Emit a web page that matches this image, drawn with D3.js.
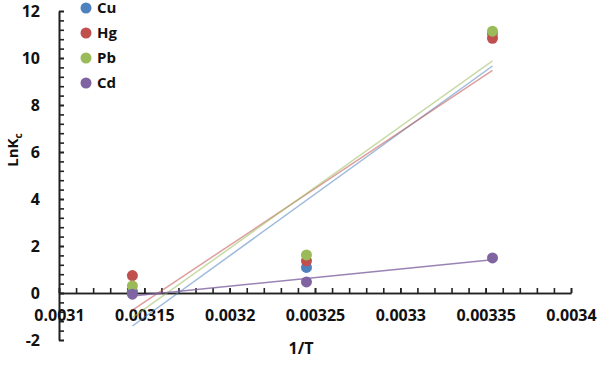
<!DOCTYPE html>
<html>
<head>
<meta charset="utf-8">
<script src="https://cdn.jsdelivr.net/npm/d3@7"></script>
<style>
  body { margin: 0; background: #fff; }
  text { font-family: "Open Sans", "DejaVu Sans", sans-serif; font-weight: 700; fill: #111; }
</style>
</head>
<body>
<svg id="chart" width="597" height="366"></svg>
<script>
// 1/T values (K^-1) and LnKc for each metal
const invT = [0.003143, 0.003245, 0.003354];
const seriesNames = ["Cu", "Hg", "Pb", "Cd"];
const cuValues = [0.07, 1.09, 11.04];
const hgValues = [0.74, 1.37, 10.84];
const pbValues = [0.30, 1.62, 11.14];
const cdValues = [-0.05, 0.47, 1.49];
const seriesColors = ["#4f81bd", "#c0504d", "#9bbb59", "#8064a2"];
const xTicks = [0.0031, 0.00315, 0.0032, 0.00325, 0.0033, 0.00335, 0.0034];
const yTicks = [-2, 0, 2, 4, 6, 8, 10, 12];

const series = [cuValues, hgValues, pbValues, cdValues].map((vals, i) => ({
    name: seriesNames[i],
    color: seriesColors[i],
    points: vals.map((v, j) => [invT[j], v])
}));

const svg = d3.select("#chart");
const x = d3.scaleLinear().domain([0.0031, 0.0034]).range([59, 571]);
const y = d3.scaleLinear().domain([-2, 12]).range([340, 11]);

// y axis: minor ticks then labelled ticks, all pointing inward
svg.append("g")
    .attr("transform", "translate(" + x(0.0031) + ",0)")
    .call(d3.axisLeft(y).tickValues(d3.range(-2, 12.01, 0.4)).tickFormat("").tickSizeInner(-5).tickSizeOuter(0))
svg.append("g")
    .attr("class", "y-axis")
    .attr("transform", "translate(" + x(0.0031) + ",0)")
    .call(d3.axisLeft(y).tickValues(yTicks).tickFormat(d => String(d)).tickSizeInner(-5).tickSizeOuter(0).tickPadding(19))

// x axis sits on y = 0
svg.append("g")
    .attr("transform", "translate(0," + y(0) + ")")
    .call(d3.axisBottom(x).tickValues(d3.range(0, 31).map(i => 0.0031 + i * 0.00001)).tickFormat("").tickSizeInner(-5).tickSizeOuter(0))
svg.append("g")
    .attr("class", "x-axis")
    .attr("transform", "translate(0," + y(0) + ")")
    .call(d3.axisBottom(x).tickValues(xTicks).tickFormat(d => String(+d.toFixed(5))).tickSizeInner(-5).tickSizeOuter(0).tickPadding(17))

svg.selectAll(".domain, .tick line").attr("stroke", "#222").attr("stroke-width", 1.6)
svg.selectAll(".tick text").style("font-size", "16px").attr("fill", "#111")

// linear trendlines (least squares over each series)
function fit(pts) {
    const mx = d3.mean(pts, p => p[0]), my = d3.mean(pts, p => p[1]);
    const sxy = d3.sum(pts, p => (p[0] - mx) * (p[1] - my));
    const sxx = d3.sum(pts, p => (p[0] - mx) ** 2);
    const b = sxy / sxx;
    return xv => my + b * (xv - mx);
}
const line = d3.line().x(d => x(d[0])).y(d => y(d[1]));

for (let s of series) {
    svg.append("g").selectAll("circle")
        .data(s.points)
        .join("circle")
            .attr("cx", d => x(d[0]))
            .attr("cy", d => y(d[1]))
            .attr("r", 5.5)
            .attr("fill", s.color)
}
for (let s of series) {
    const f = fit(s.points);
    const ends = d3.extent(invT).map(xv => [xv, f(xv)]);
    svg.append("path")
        .attr("d", line(ends))
        .attr("fill", "none")
        .attr("stroke", s.color)
        .attr("stroke-opacity", s.name == "Cd" ? 0.8 : 0.55)
        .attr("stroke-width", 1.5)
}

// legend
const legend = svg.append("g").selectAll("g")
    .data(series)
    .join("g")
        .attr("transform", (d, i) => "translate(86," + (8 + i * 25) + ")")
legend.append("circle").attr("r", 5.5).attr("fill", d => d.color)
legend.append("text").attr("x", 11).attr("dy", "0.36em").style("font-size", "15px").text(d => d.name)

// axis titles
svg.append("text")
    .attr("x", 301).attr("y", 354)
    .attr("text-anchor", "middle")
    .style("font-size", "16px")
    .text("1/T")
const yt = svg.append("text")
    .attr("transform", "translate(18,150) rotate(-90)")
    .attr("text-anchor", "middle")
    .style("font-size", "15px")
yt.append("tspan").text("LnK")
yt.append("tspan").attr("dy", 4).style("font-size", "10px").text("c")
</script>
</body>
</html>
